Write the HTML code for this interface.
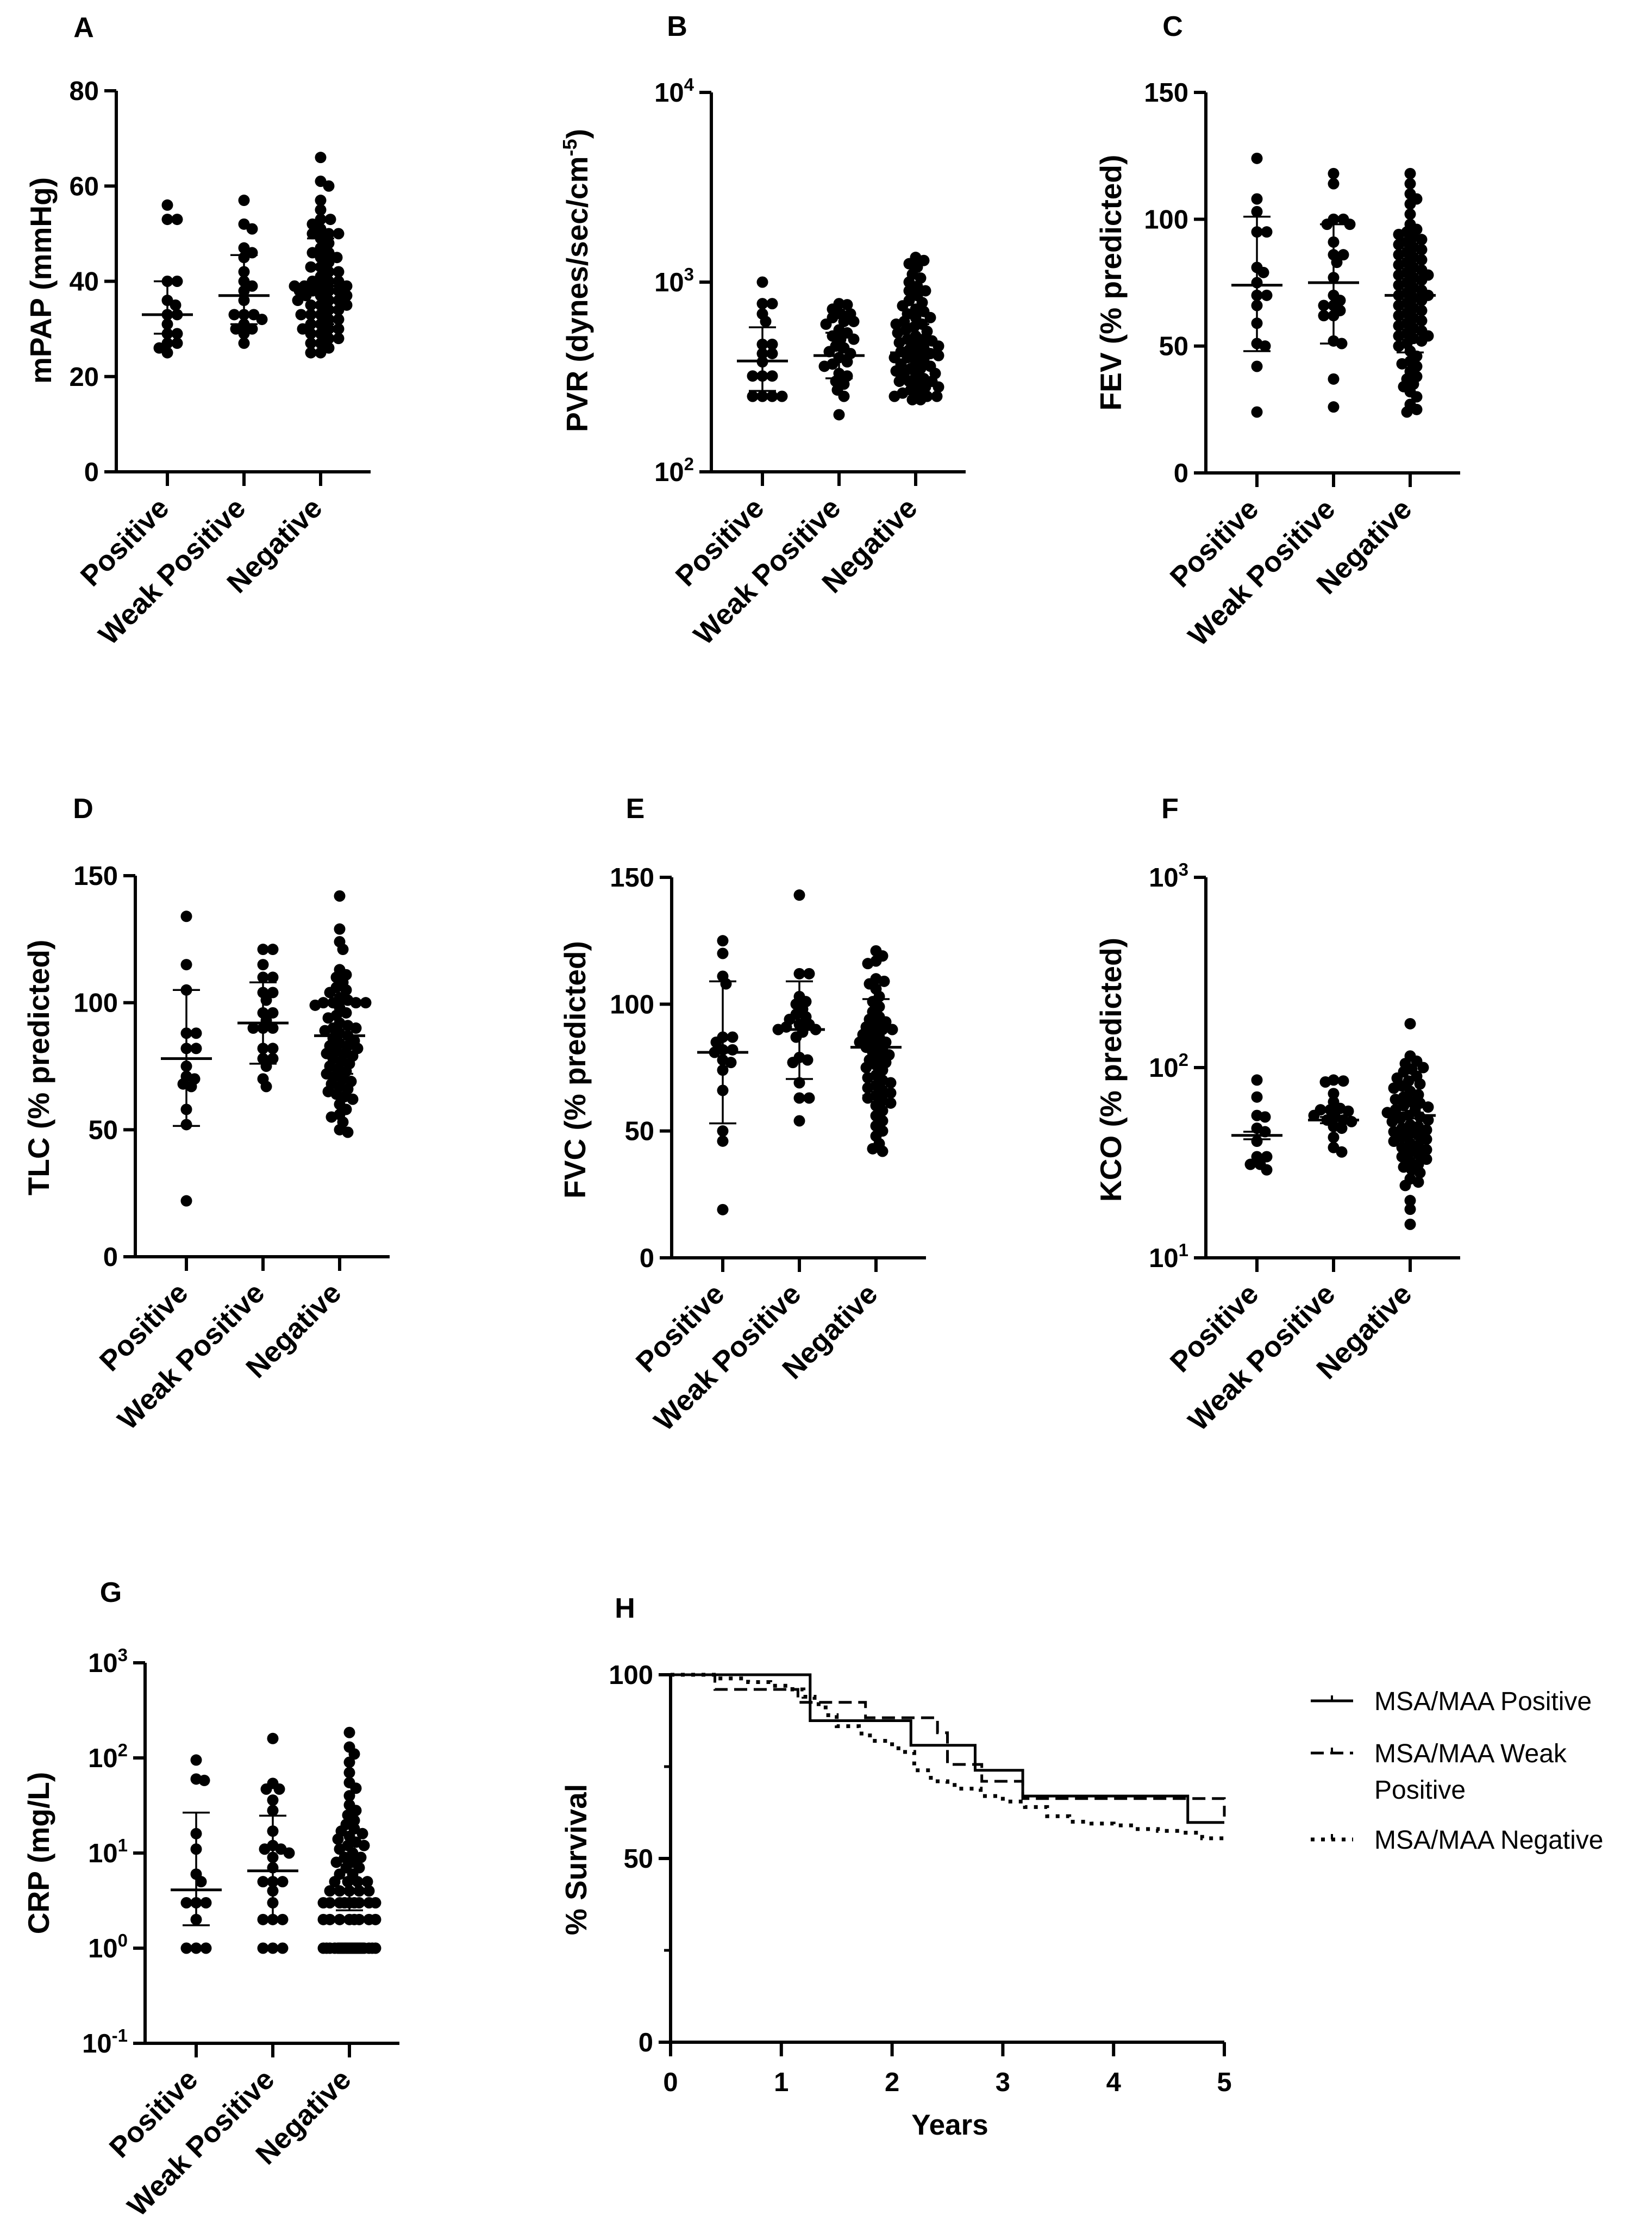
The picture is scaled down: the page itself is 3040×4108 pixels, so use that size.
<!DOCTYPE html>
<html><head><meta charset="utf-8"><style>
html,body{margin:0;padding:0;background:#fff;}
svg{display:block;font-family:"Liberation Sans",Arial,sans-serif;}
</style></head><body>
<svg id="fig" xmlns="http://www.w3.org/2000/svg" width="3040" height="4108" viewBox="0 0 3040 4108">
<rect x="0" y="0" width="3040" height="4108" fill="#fff"/>
</svg>
<script>
const catLabels = ["Positive", "Weak Positive", "Negative"];

const mpapPos = [56,53,53,40,40,36,35,33,33,31,29,29,27,27,26,25];
const mpapWeak = [57,52,51,47,46,45,42,40,39,38,36,33,33,33,32,31,30,30,29,27];
const mpapNeg = [66,61,60,57,55,53,53,52,51,50,50,50,49,48,47,46,46,45,45,44,43,43,42,42,41,40,40,40,39,39,39,39,38,38,38,38,37,37,37,36,36,36,35,35,35,34,34,33,33,33,32,32,31,31,30,30,30,29,29,28,28,27,27,26,25,25];
const mpapMed = [33,37,39];
const mpapLo = [29,31,31];
const mpapHi = [40,45.5,49];
const mpapTicks = [0,20,40,60,80];

const pvrPos = [1000,770,770,680,620,470,470,420,420,380,320,320,320,250,250,250,250];
const pvrWeak = [770,760,720,680,680,650,620,620,600,560,540,520,500,500,460,450,430,420,400,380,370,360,330,320,300,290,270,250,200];
const pvrNeg = [1350,1300,1250,1200,1100,1050,1000,950,900,900,850,800,780,750,720,700,680,650,650,620,600,600,580,560,550,540,520,500,500,490,480,470,460,450,440,430,420,420,410,400,400,390,380,370,360,350,350,340,330,330,320,310,300,300,300,290,280,280,270,260,260,250,250,250,240,240];
const pvrMed = [384,410,424];
const pvrLo = [267,311,310];
const pvrHi = [578,541,600];
const pvrTickExp = ["2","3","4"];

const fevPos = [124,108,103,95,95,81,79,75,70,70,66,59,51,50,42,24];
const fevWeak = [118,114,100,100,98,98,91,86,86,83,77,70,68,66,66,64,62,62,52,51,37,26];
const fevNeg = [118,114,110,108,106,102,98,96,95,94,93,92,91,90,89,88,87,86,85,84,83,82,81,80,79,78,78,77,76,75,74,73,72,71,70,70,69,68,67,66,65,64,63,62,61,60,59,58,57,56,55,54,54,53,52,51,50,48,46,44,43,42,40,38,37,35,34,32,30,27,25,24];
const fevMed = [74,75,70];
const fevLo = [48,51,47.5];
const fevHi = [101,98,92];
const pctTicks = [0,50,100,150];

const tlcPos = [134,115,105,88,88,82,82,75,71,70,68,67,58,52,22];
const tlcWeak = [121,121,115,110,110,104,104,101,96,96,93,90,90,90,82,82,78,78,75,70,67];
const tlcNeg = [142,129,124,121,113,111,110,108,106,105,104,102,101,100,100,100,100,99,98,96,95,94,92,91,90,90,89,88,87,86,85,84,83,83,82,81,80,80,79,78,77,76,75,74,73,72,71,70,69,68,67,66,65,64,63,62,60,58,56,55,53,50,49];
const tlcMed = [78,92,87];
const tlcLo = [51.5,76,72];
const tlcHi = [105,108,100];

const fvcPos = [125,120,111,108,87,87,85,82,82,81,78,77,74,66,50,46,19];
const fvcWeak = [143,112,112,103,101,100,98,96,95,94,92,92,91,90,90,89,87,79,78,77,69,63,63,54];
const fvcNeg = [121,119,117,116,110,109,108,106,103,101,99,97,95,94,93,92,91,90,90,89,88,87,86,85,85,84,83,82,81,80,79,78,77,76,75,74,72,71,70,69,68,67,66,65,64,63,62,61,60,58,56,54,52,50,48,45,43,42];
const fvcMed = [81,90,83];
const fvcLo = [53,70.5,64];
const fvcHi = [109,109,102];

const kcoPos = [86,70,56,55,48,46,41,34,34,31,31,29];
const kcoWeak = [86,85,84,73,66,61,60,60,59,56,55,53,53,52,49,48,43,38,36];
const kcoNeg = [170,115,108,105,100,98,95,90,88,85,82,80,78,75,72,70,68,66,65,63,62,60,60,58,56,55,54,53,52,50,49,48,47,46,45,44,43,42,41,40,39,38,37,36,35,34,33,32,31,30,29,28,26,25,24,20,18,15];
const kcoMed = [44,53,56];
const kcoLo = [42,51,54];
const kcoHi = [46,55,58];
const kcoTickExp = ["1","2","3"];

const crpPos = [95,60,58,16,11,6,5,3,3,3,2,1,1,1];
const crpWeak = [160,54,47,47,36,28,17,12,11,11,10,9,7,5,5,5,4,3,2,2,2,1,1,1];
const crpNeg = [185,130,110,90,70,55,48,40,32,28,25,22,20,18,17,16,15,14,13,12,12,11,10,9,9,8,8,7,7,6,6,5,5,5,5,4,4,4,4,4,3,3,3,3,3,3,3,3,3,2,2,2,2,2,2,2,2,1,1,1,1,1,1,1,1,1,1,1,1,1,1,1,1,1,1,1,1,1,1,1,1];
const crpMed = [4.1,6.5,3];
const crpLo = [1.74,2,2.5];
const crpHi = [26.6,24.7,11.9];
const crpTickExp = ["-1","0","1","2","3"];

const survPosT = [0,1.26,2.17,2.75,3.18,4.67,5];
const survPosS = [100,87.5,80.8,74,67,59.8,59.8];
const survWeakT = [0,0.40,1.15,1.76,2.41,2.5,2.81,3.18,4.98,5];
const survWeakS = [100,96,92.5,88.3,84.2,75.6,71,66.3,66.3,61.4];
const survNegT = [0,0.45,0.7,0.9,1.1,1.2,1.3,1.4,1.5,1.7,1.8,2.0,2.1,2.2,2.35,2.5,2.6,2.8,3.0,3.2,3.4,3.6,3.8,4.0,4.2,4.4,4.6,4.8,5];
const survNegS = [100,99,98,97,96,94,92,89,86,84,82,80,79,74,71,70,69,67,65.5,64,61.5,60,59.5,59,58,57.5,57,55.5,55];
const survYTicks = [0,50,100];
const survXTicks = [0,1,2,3,4,5];

const NS = "http://www.w3.org/2000/svg";
const svg = document.getElementById("fig");
function mk(tag, attrs, parent){
  const e = document.createElementNS(NS, tag);
  for (const k in attrs) e.setAttribute(k, attrs[k]);
  (parent||svg).appendChild(e);
  return e;
}
const BF = "font-weight:bold";

function panel(cfg){
  const g = mk("g", {});
  
  
  const lt = mk("text", {x: cfg.letterX, y: cfg.letterY + 18, "text-anchor":"middle", "font-size":52, style:BF}, g);
  lt.textContent = cfg.letter;
  
  
  const ax = cfg.ax, top = cfg.top, bot = cfg.bottom, right = ax + 468;
  const L = Math.log10;
  const yf = cfg.log
    ? v => top + (L(cfg.max) - L(v)) / (L(cfg.max) - L(cfg.min)) * (bot - top)
    : v => top + (cfg.max - v) / (cfg.max - cfg.min) * (bot - top);
  const yl = mk("line", {x1:ax, y1:top, x2:ax, y2:bot+3, stroke:"#000", "stroke-width":6}, g);
  
  
  const xl = mk("line", {x1:ax-22, y1:bot, x2:right, y2:bot, stroke:"#000", "stroke-width":6}, g);
  
  
  cfg.ticks.forEach((t, i) => {
    const y = yf(t);
    const tk = mk("line", {x1:ax-22, y1:y, x2:ax, y2:y, stroke:"#000", "stroke-width":6}, g);
    
    
    const tx = mk("text", {x:ax-32, y:y+17, "text-anchor":"end", "font-size":49, style:BF}, g);
    if (cfg.log) {
      const b = mk("tspan", {}, tx); b.textContent = "10";
      const s = mk("tspan", {dy:-20, "font-size":33}, tx); s.textContent = cfg.tickExp[i];
    } else tx.textContent = String(t);
    
    
  });
  const ttl = mk("text", {transform:`translate(${cfg.titleX+20},${cfg.titleY}) rotate(-90)`, "text-anchor":"middle", "font-size":55, style:BF}, g);
  if (cfg.titleSup) {
    const a = mk("tspan", {}, ttl); a.textContent = cfg.title;
    const s = mk("tspan", {dy:-20, "font-size":36}, ttl); s.textContent = cfg.titleSup;
    const c = mk("tspan", {dy:20}, ttl); c.textContent = ")";
  } else ttl.textContent = cfg.title;
  
  
  const offs = [94, 235, 376];
  cfg.groups.forEach((vals, gi) => {
    const cx = ax + offs[gi];
    const tk = mk("line", {x1:cx, y1:bot, x2:cx, y2:bot+26, stroke:"#000", "stroke-width":6}, g);
    
    
    const cl = mk("text", {transform:`translate(${cx+6},${bot+70}) rotate(-45)`, "text-anchor":"end", "font-size":53, style:BF}, g);
    cl.textContent = catLabels[gi];
    
    
    const r = 10.5;
    const maxW = 48;
    const thr = 2 * r * 0.72;
    const placed = [];
    const sorted = vals.slice().sort((a,b) => b-a);
    sorted.forEach(v => {
      const y = yf(v);
      let x = null, bestX = cx, bestD = -1;
      for (let k = 0; k < 200; k++) {
        const off = (k % 2 ? 1 : -1) * Math.ceil(k/2) * 3;
        if (Math.abs(off) > maxW) break;
        const xx = cx + off;
        let md = 1e9;
        for (const p of placed) { const dx = p[0]-xx, dy = p[1]-y; const d = Math.sqrt(dx*dx+dy*dy); if (d < md) md = d; }
        if (md >= thr) { x = xx; break; }
        if (md > bestD) { bestD = md; bestX = xx; }
      }
      if (x === null) x = bestX;
      placed.push([x, y]);
      const c = mk("circle", {cx:x, cy:y, r:r, fill:"#000"}, g);
      
      
    });
    const yh = yf(cfg.hi[gi]), ylo = yf(cfg.lo[gi]), ym = yf(cfg.med[gi]);
    const vb = mk("line", {x1:cx, y1:yh, x2:cx, y2:ylo, stroke:"#000", "stroke-width":3.5}, g);
    
    
    [yh, ylo].forEach(yy => {
      const cap = mk("line", {x1:cx-25, y1:yy, x2:cx+25, y2:yy, stroke:"#000", "stroke-width":3.5}, g);
      
      
    });
    const md = mk("line", {x1:cx-47, y1:ym, x2:cx+47, y2:ym, stroke:"#000", "stroke-width":5}, g);
    
    
  });
}

panel({name:"mpap", letter:"A", letterX:154, letterY:50, ax:214, top:167, bottom:868, log:false, min:0, max:80, ticks:mpapTicks, title:"mPAP (mmHg)", titleX:74, titleY:516, groups:[mpapPos,mpapWeak,mpapNeg], med:mpapMed, lo:mpapLo, hi:mpapHi});
panel({name:"pvr", letter:"B", letterX:1246, letterY:48, ax:1309, top:170, bottom:868, log:true, min:100, max:10000, ticks:[100,1000,10000], tickExp:pvrTickExp, title:"PVR (dynes/sec/cm", titleSup:"-5", titleX:1061, titleY:516, groups:[pvrPos,pvrWeak,pvrNeg], med:pvrMed, lo:pvrLo, hi:pvrHi});
panel({name:"fev", letter:"C", letterX:2158, letterY:48, ax:2219, top:170, bottom:870, log:false, min:0, max:150, ticks:pctTicks, title:"FEV (% predicted)", titleX:2043, titleY:520, groups:[fevPos,fevWeak,fevNeg], med:fevMed, lo:fevLo, hi:fevHi});
panel({name:"tlc", letter:"D", letterX:153, letterY:1487, ax:249, top:1611, bottom:2312, log:false, min:0, max:150, ticks:pctTicks, title:"TLC (% predicted)", titleX:70, titleY:1964, groups:[tlcPos,tlcWeak,tlcNeg], med:tlcMed, lo:tlcLo, hi:tlcHi});
panel({name:"fvc", letter:"E", letterX:1169, letterY:1487, ax:1236, top:1614, bottom:2314, log:false, min:0, max:150, ticks:pctTicks, title:"FVC (% predicted)", titleX:1057, titleY:1968, groups:[fvcPos,fvcWeak,fvcNeg], med:fvcMed, lo:fvcLo, hi:fvcHi});
panel({name:"kco", letter:"F", letterX:2153, letterY:1487, ax:2219, top:1614, bottom:2314, log:true, min:10, max:1000, ticks:[10,100,1000], tickExp:kcoTickExp, title:"KCO (% predicted)", titleX:2043, titleY:1968, groups:[kcoPos,kcoWeak,kcoNeg], med:kcoMed, lo:kcoLo, hi:kcoHi});
panel({name:"crp", letter:"G", letterX:204, letterY:2929, ax:267, top:3059, bottom:3759, log:true, min:0.1, max:1000, ticks:[0.1,1,10,100,1000], tickExp:crpTickExp, title:"CRP (mg/L)", titleX:70, titleY:3409, groups:[crpPos,crpWeak,crpNeg], med:crpMed, lo:crpLo, hi:crpHi});

// Panel H survival
(function(){
  const g = mk("g", {});
  
  
  const x0 = 1234, x5 = 2253, y100 = 3081, y0 = 3757;
  const xf = t => x0 + t/5*(x5-x0);
  const yf = s => y0 - s/100*(y0-y100);
  const lt = mk("text", {x:1150, y:2958+18, "text-anchor":"middle", "font-size":52, style:BF}, g);
  lt.textContent = "H";
  
  
  const ya = mk("line", {x1:x0, y1:y100, x2:x0, y2:y0+3, stroke:"#000", "stroke-width":6}, g);
  
  
  const xa = mk("line", {x1:x0-22, y1:y0, x2:x5, y2:y0, stroke:"#000", "stroke-width":6}, g);
  
  
  survYTicks.forEach(t => {
    const y = yf(t);
    const tk = mk("line", {x1:x0-22, y1:y, x2:x0, y2:y, stroke:"#000", "stroke-width":6}, g);
    
    
    const tx = mk("text", {x:x0-32, y:y+17, "text-anchor":"end", "font-size":49, style:BF}, g);
    tx.textContent = String(t);
    
    
  });
  [25,75].forEach(t => {
    const y = yf(t);
    const tk = mk("line", {x1:x0-12, y1:y, x2:x0, y2:y, stroke:"#000", "stroke-width":5}, g);
    
    
  });
  survXTicks.forEach(t => {
    const x = xf(t);
    const tk = mk("line", {x1:x, y1:y0, x2:x, y2:y0+26, stroke:"#000", "stroke-width":6}, g);
    
    
    const tx = mk("text", {x:x, y:y0+90, "text-anchor":"middle", "font-size":49, style:BF}, g);
    tx.textContent = String(t);
    
    
  });
  const xt = mk("text", {x:1748, y:3927, "text-anchor":"middle", "font-size":53, style:BF}, g);
  xt.textContent = "Years";
  
  
  const ytt = mk("text", {transform:`translate(${1059+20},3421) rotate(-90)`, "text-anchor":"middle", "font-size":55, style:BF}, g);
  ytt.textContent = "% Survival";
  
  
  function step(T, S){
    let d = `M${xf(T[0])},${yf(S[0])}`;
    for (let i = 1; i < T.length; i++) d += ` H${xf(T[i])} V${yf(S[i])}`;
    return d;
  }
  const styles = [
    {T:survPosT, S:survPosS, dash:null, w:5, name:"survival-line-positive"},
    {T:survWeakT, S:survWeakS, dash:"24 12", w:5, name:"survival-line-weak-positive"},
    {T:survNegT, S:survNegS, dash:"7 12", w:7, name:"survival-line-negative"}
  ];
  styles.forEach(s => {
    const a = {d:step(s.T, s.S), fill:"none", stroke:"#000", "stroke-width":s.w};
    if (s.dash) a["stroke-dasharray"] = s.dash;
    const p = mk("path", a, g);
    
    
  });
  const leg = [
    {y:3129, dash:null, w:5, lines:["MSA/MAA Positive"]},
    {y:3225, dash:"24 12", w:5, lines:["MSA/MAA Weak","Positive"]},
    {y:3384, dash:"7 12", w:7, lines:["MSA/MAA Negative"]}
  ];
  leg.forEach(l => {
    const lg = mk("g", {}, g);
    
    
    const a = {x1:2412, y1:l.y, x2:2490, y2:l.y, stroke:"#000", "stroke-width":l.w};
    if (l.dash) a["stroke-dasharray"] = l.dash;
    const ln = mk("line", a, lg);
    
    
    const tk = mk("line", {x1:2451, y1:l.y-10, x2:2451, y2:l.y, stroke:"#000", "stroke-width":4}, lg);
    
    
    l.lines.forEach((t, i) => {
      const tx = mk("text", {x:2529, y:l.y+17+i*67, "font-size":48}, lg);
      tx.textContent = t;
      
      
    });
  });
})();
</script>
</body></html>
